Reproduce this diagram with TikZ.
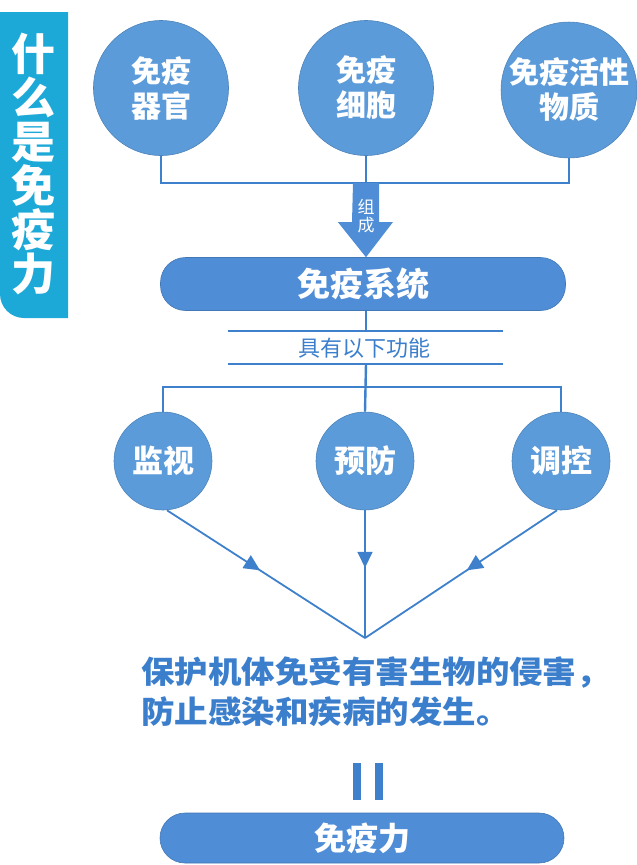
\documentclass[tikz,border=0pt]{standalone}
\usepackage{fontspec}
\newfontfamily\cjk{Noto Sans CJK SC}
\usetikzlibrary{arrows.meta,decorations.markings}
\definecolor{circ}{HTML}{5C9BDA}
\definecolor{barc}{HTML}{4F8DD6}
\definecolor{linec}{HTML}{3E80CC}
\definecolor{titlec}{HTML}{1DA9D8}
\definecolor{txtc}{HTML}{3B7ECC}
\begin{document}
\begin{tikzpicture}[x=1pt,y=-1pt,
  bubble/.style={circle, fill=circ, draw=circ!85!black, line width=0.6pt, minimum size=#1, inner sep=0pt,
    text=white, align=center},
  bigtext/.style={font=\cjk\bfseries\fontsize{30}{35}\selectfont},
  pill/.style={rectangle, rounded corners=25pt, fill=barc, draw=barc!85!black, line width=0.6pt,
    text=white, inner sep=0pt, font=\cjk\bfseries\fontsize{33}{38}\selectfont},
  conn/.style={draw=linec, line width=2.4pt},
  thin/.style={draw=linec, line width=1.8pt},
  midarrow/.style={thin, decoration={markings, mark=at position #1 with {\arrow{Triangle[length=16pt,width=15pt]}}}, postaction={decorate}},
  bodytext/.style={text=txtc, inner sep=0pt, anchor=west, font=\cjk\bfseries\fontsize{31}{36}\selectfont}
]
\useasboundingbox (0,0) rectangle (637,865);

% title bar
\fill[titlec] (68,12) -- (0,12) -- (0,294) arc[start angle=180,end angle=90,radius=24] -- (68,318) -- cycle;
\node[text=white, align=center, inner sep=0pt, font=\cjk\bfseries\fontsize{44}{44}\selectfont] (title) at (34,164)
  {什\\么\\是\\免\\疫\\力};

% top circles
\node[bubble=135pt, bigtext] (c1) at (161,88) {免疫\\器官};
\node[bubble=135pt, bigtext] (c2) at (366,88) {免疫\\细胞};
\node[bubble=135pt, bigtext] (c3) at (569,90) {免疫活性\\物质};

\coordinate (j1) at (366,183);
\draw[conn] (c1.south) |- (j1) -| (c3.south);
\draw[conn] (c2.south) -- (j1);

% system bar
\node[pill, minimum width=405pt, minimum height=53pt] (sys) at (363,284) {免疫系统};

% block arrow
\fill[barc] (j1) ++(-13,0) -- ++(26,0) -- ++(0,39) -- ++(14,0) -- (sys.north -| j1) -- ++(-28,-35) -- ++(14,0) -- cycle;
\node[text=white, align=center, inner sep=0pt, font=\cjk\fontsize{17}{18}\selectfont] (zc) at (366,216) {组\\成};

% functions label
\coordinate (r1) at (366,331);
\coordinate (r2) at (366,364);
\draw[thin] (sys.south -| r1) -- (r1);
\draw[thin] (228,331) -- (503,331);
\draw[thin] (228,364) -- (503,364);
\node[text=txtc, inner sep=0pt, font=\cjk\fontsize{22}{24}\selectfont] (func) at (364,348) {具有以下功能};

% bottom circles
\node[bubble=98pt, font=\cjk\bfseries\fontsize{31}{34}\selectfont] (m1) at (163,461) {监视};
\node[bubble=98pt, font=\cjk\bfseries\fontsize{31}{34}\selectfont] (m2) at (365,461) {预防};
\node[bubble=98pt, font=\cjk\bfseries\fontsize{31}{34}\selectfont] (m3) at (561,461) {调控};

\coordinate (j2) at (365,387);
\draw[conn] (r2) -- (m2.north);
\draw[conn] (m1.north) |- (j2) -| (m3.north);

% converging arrows
\coordinate (apex) at (365,638);
\draw[midarrow=0.47] ([xshift=4pt]m1.south) -- (apex);
\draw[midarrow=0.45] (m2.south) -- (apex);
\draw[midarrow=0.47] ([xshift=-4pt]m3.south) -- (apex);

% body text
\node[bodytext] (t1) at (141,673) {\scalebox{1.08}[1]{保护机体免受有害生物的侵害，}};
\node[bodytext] (t2) at (141,712) {\scalebox{1.08}[1]{防止感染和疾病的发生。}};

% equals sign (vertical)
\fill[linec] (353,763) rectangle (361,800);
\fill[linec] (375,763) rectangle (383,800);

% final bar
\node[pill, minimum width=404pt, minimum height=50pt, font=\cjk\bfseries\fontsize{32}{36}\selectfont] (imm) at (362,838) {免疫力};
\end{tikzpicture}
\end{document}
